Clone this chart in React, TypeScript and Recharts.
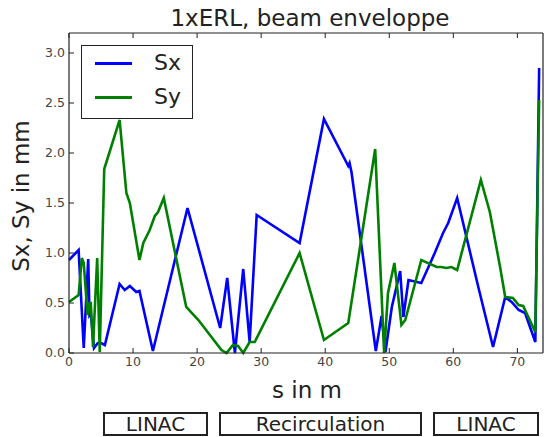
import { Line, LineChart, XAxis, YAxis } from "recharts";

// beam position s (m) and envelope (mm)
const sxS = [0, 1.5, 2.3, 3.0, 3.2, 3.4, 3.9, 4.5, 5.0, 5.6, 7.9, 8.7, 9.5, 10.5, 11.0, 13.1, 18.5, 23.6, 24.7, 25.9, 27.2, 28.2, 29.3, 36.0, 39.8, 43.6, 43.8, 44.1, 47.9, 48.8, 49.4, 50.4, 51.7, 52.2, 53.0, 55.0, 57.1, 58.4, 59.2, 60.6, 63.9, 66.2, 68.1, 69.1, 70.2, 71.2, 72.8, 73.4];
const sxV = [0.93, 1.03, 0.05, 0.94, 0.38, 0.4, 0.05, 0.1, 0.1, 0.08, 0.69, 0.63, 0.67, 0.61, 0.62, 0.02, 1.45, 0.25, 0.75, 0.0, 0.84, 0.11, 1.38, 1.1, 2.34, 1.87, 1.9, 1.81, 0.02, 0.37, 0.01, 0.46, 0.82, 0.36, 0.73, 0.7, 1.0, 1.2, 1.3, 1.55, 0.66, 0.06, 0.56, 0.51, 0.43, 0.4, 0.11, 2.85];

const syS = [0, 1.5, 2.0, 2.3, 2.9, 3.2, 3.4, 3.75, 4.4, 4.8, 5.5, 7.9, 8.96, 9.5, 11.0, 11.6, 12.6, 13.4, 13.9, 14.8, 18.3, 20.2, 23.8, 24.6, 25.6, 26.4, 27.2, 28.2, 29.0, 36.0, 39.8, 43.6, 47.8, 49.2, 49.8, 50.8, 51.9, 52.5, 55.0, 57.4, 58.1, 58.9, 59.7, 60.6, 64.3, 65.7, 67.3, 68.1, 69.3, 70.2, 70.9, 72.8, 73.4];
const syV = [0.51, 0.58, 0.95, 0.9, 0.38, 0.5, 0.5, 0.06, 0.95, 0.01, 1.84, 2.33, 1.6, 1.5, 0.93, 1.1, 1.23, 1.37, 1.41, 1.55, 0.46, 0.33, 0.03, 0.0, 0.08, 0.07, 0.0, 0.11, 0.11, 1.0, 0.13, 0.3, 2.04, 0.0, 0.6, 0.9, 0.28, 0.33, 0.93, 0.86, 0.86, 0.85, 0.86, 0.83, 1.73, 1.41, 0.86, 0.56, 0.55, 0.48, 0.47, 0.21, 2.53];

const xTicks = [0, 10, 20, 30, 40, 50, 60, 70];
const yTicks = [0, 0.5, 1.0, 1.5, 2.0, 2.5, 3.0];
const sections = ["LINAC", "Recirculation", "LINAC"];
const seriesNames = ["Sx", "Sy"];

const sxData = sxS.map((s, i) => ({ s, v: sxV[i] }));
const syData = syS.map((s, i) => ({ s, v: syV[i] }));

const font = "'DejaVu Sans', sans-serif";
const tickStyle = { fontSize: 12.5, fill: "#444", fontFamily: font };
const colors = ["#0000ff", "#008000"];
const ink = "#222";

const boxes = [
  { label: sections[0], left: 103, right: 208 },
  { label: sections[1], left: 219, right: 422 },
  { label: sections[2], left: 433, right: 539 },
];

export default function App() {
  return (
    <div style={{ position: "absolute", left: 0, top: 0, width: 549, height: 437, background: "#fff", fontFamily: font, overflow: "hidden" }}>
      <div style={{ position: "absolute", left: 70, width: 480, top: 5, textAlign: "center", fontSize: 23, color: ink, whiteSpace: "nowrap" }}>
        1xERL, beam enveloppe
      </div>
      <LineChart width={549} height={437} data={sxData} margin={{ top: 32, right: 5, bottom: 54, left: 19 }}>
        <XAxis
          dataKey="s"
          type="number"
          domain={[0, 74]}
          ticks={xTicks}
          tickSize={-5}
          tickMargin={9}
          height={30}
          axisLine={{ stroke: ink, strokeWidth: 1.2 }}
          tickLine={{ stroke: ink }}
          tick={tickStyle}
        />
        <XAxis
          xAxisId="top"
          orientation="top"
          dataKey="s"
          type="number"
          domain={[0, 74]}
          ticks={xTicks}
          tickSize={-5}
          height={1}
          tickFormatter={() => ""}
          axisLine={{ stroke: ink, strokeWidth: 1.2 }}
          tickLine={{ stroke: ink }}
        />
        <YAxis
          type="number"
          domain={[0, 3.2]}
          ticks={yTicks}
          tickSize={-5}
          tickMargin={9}
          width={50}
          tickFormatter={(v: number) => v.toFixed(1)}
          axisLine={{ stroke: ink, strokeWidth: 1.2 }}
          tickLine={{ stroke: ink }}
          tick={tickStyle}
        />
        <YAxis
          yAxisId="right"
          orientation="right"
          type="number"
          domain={[0, 3.2]}
          ticks={yTicks}
          tickSize={-5}
          width={1}
          tickFormatter={() => ""}
          axisLine={{ stroke: ink, strokeWidth: 1.2 }}
          tickLine={{ stroke: ink }}
        />
        <Line data={sxData} dataKey="v" stroke={colors[0]} strokeWidth={2.6} dot={false} isAnimationActive={false} />
        <Line data={syData} dataKey="v" stroke={colors[1]} strokeWidth={2.6} dot={false} isAnimationActive={false} />
      </LineChart>
      <div style={{ position: "absolute", left: 81, top: 45, width: 112, height: 74, boxSizing: "border-box", border: `1.5px solid ${ink}`, background: "#fff" }}>
        {seriesNames.map((n, i) => (
          <div key={n}>
            <div style={{ position: "absolute", left: 13, top: 17 + i * 34 - 1.5, width: 37, height: 3, background: colors[i] }} />
            <div style={{ position: "absolute", left: 72, top: 17 + i * 34 - 11, fontSize: 22, lineHeight: "22px", color: ink }}>{n}</div>
          </div>
        ))}
      </div>
      <div style={{ position: "absolute", left: 21, top: 196, width: 0, height: 0, display: "flex", alignItems: "center", justifyContent: "center" }}>
        <div style={{ transform: "rotate(-90deg)", whiteSpace: "nowrap", fontSize: 23, color: ink }}>Sx, Sy in mm</div>
      </div>
      <div style={{ position: "absolute", left: 70, width: 474, top: 377, textAlign: "center", fontSize: 23, color: ink }}>
        s in m
      </div>
      {boxes.map((b, i) => (
        <div
          key={i}
          style={{ position: "absolute", left: b.left, top: 412, width: b.right - b.left, height: 24, boxSizing: "border-box", border: `2px solid ${ink}`, textAlign: "center", fontSize: 20, lineHeight: "20px", color: ink }}
        >
          {b.label}
        </div>
      ))}
    </div>
  );
}
